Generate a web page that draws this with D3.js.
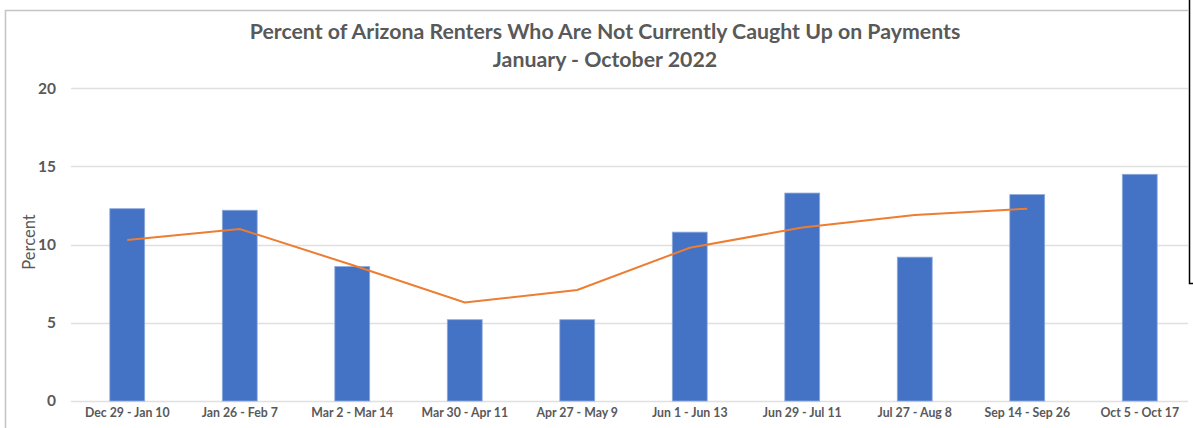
<!DOCTYPE html>
<html>
<head>
<meta charset="utf-8">
<script src="https://cdn.jsdelivr.net/npm/d3@7"></script>
<style>
  html, body { margin: 0; padding: 0; background: #fff; }
  svg { display: block; font-family: Lato, "Open Sans", sans-serif; }
</style>
</head>
<body>
<div id="chart"></div>
<script>
// Data
const periods = ['Dec 29 - Jan 10', 'Jan 26 - Feb 7', 'Mar 2 - Mar 14', 'Mar 30 - Apr 11', 'Apr 27 - May 9',
  'Jun 1 - Jun 13', 'Jun 29 - Jul 11', 'Jul 27 - Aug 8', 'Sep 14 - Sep 26', 'Oct 5 - Oct 17'];
const percentBehind = [12.3, 12.2, 8.6, 5.2, 5.2, 10.8, 13.3, 9.2, 13.2, 14.5];
// moving average line, one point per period (last period has none)
const movingAvg = [10.3, 11.0, 8.7, 6.3, 7.1, 9.8, 11.1, 11.9, 12.3];
const yTicks = [0, 5, 10, 15, 20];
const titleLines = ['Percent of Arizona Renters Who Are Not Currently Caught Up on Payments', 'January - October 2022'];

const width = 1193, height = 428;
const textGrey = '#595959';

const svg = d3.select('#chart').append('svg')
  .attr('width', width)
  .attr('height', height);

// chart frame
svg.append('path')
  .attr('d', `M5.5,${height} V10.5 H1188`)
  .attr('fill', 'none')
  .attr('stroke', '#c4c4c4')
  .attr('stroke-width', 1.5);

// stray black box edge at right
svg.append('path')
  .attr('d', 'M1189.5,0 V283.5 H1193')
  .attr('fill', 'none')
  .attr('stroke', '#000')
  .attr('stroke-width', 1.5);

// title
svg.append('text')
  .attr('x', 605)
  .attr('text-anchor', 'middle')
  .attr('fill', textGrey)
  .attr('font-weight', 'bold')
  .attr('font-size', 21.3)
  .selectAll('tspan')
  .data(titleLines)
  .join('tspan')
  .attr('x', 605)
  .attr('y', (d, i) => 39 + i * 28)
  .text(d => d);

const x = d3.scaleBand()
  .domain(periods)
  .range([71, 1196])
  .paddingInner(0.69)
  .paddingOuter(0.345);

const y = d3.scaleLinear()
  .domain([0, 20])
  .range([401, 88.3]);

// gridlines
svg.append('g')
  .selectAll('line')
  .data(yTicks)
  .join('line')
  .attr('x1', 71)
  .attr('x2', 1188)
  .attr('y1', d => Math.round(y(d)) + 0.5)
  .attr('y2', d => Math.round(y(d)) + 0.5)
  .attr('stroke', '#e0e0e0')
  .attr('stroke-width', 1.3);

// y axis labels
const yAxis = svg.append('g')
  .attr('transform', 'translate(56,0)')
  .call(d3.axisLeft(y).tickValues(yTicks).tickSize(0).tickPadding(0));
yAxis.select('.domain').remove();
yAxis.selectAll('text')
  .attr('font-family', 'Lato, "Open Sans", sans-serif')
  .attr('font-size', 15.5)
  .attr('font-weight', 'bold')
  .attr('fill', textGrey);

// x axis labels
const xAxis = svg.append('g')
  .attr('transform', 'translate(0,401)')
  .call(d3.axisBottom(x).tickSize(0).tickPadding(7));
xAxis.select('.domain').remove();
xAxis.selectAll('text')
  .attr('font-family', 'Lato, "Open Sans", sans-serif')
  .attr('font-size', 12.3)
  .attr('font-weight', 'bold')
  .attr('fill', textGrey);

// y axis title
svg.append('text')
  .attr('transform', 'translate(35,242) rotate(-90)')
  .attr('text-anchor', 'middle')
  .attr('fill', textGrey)
  .attr('font-size', 16.5)
  .text('Percent');

// bars
svg.append('g')
  .selectAll('rect')
  .data(percentBehind)
  .join('rect')
  .attr('x', (d, i) => x(periods[i]))
  .attr('width', x.bandwidth())
  .attr('y', d => y(d))
  .attr('height', d => y(0) - y(d))
  .attr('fill', '#4472c4')
  .attr('stroke', '#8eaadb')
  .attr('stroke-width', 0.8);

// moving average line
const line = d3.line()
  .x((d, i) => x(periods[i]) + x.bandwidth() / 2)
  .y(d => y(d));

svg.append('path')
  .datum(movingAvg)
  .attr('d', line)
  .attr('fill', 'none')
  .attr('stroke', '#ed7d31')
  .attr('stroke-width', 2);
</script>
</body>
</html>
